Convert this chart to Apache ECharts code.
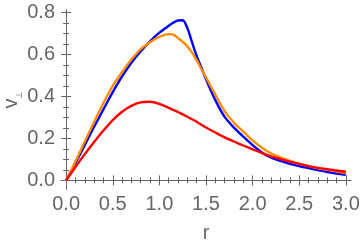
<!DOCTYPE html>
<html>
<head>
<meta charset="utf-8">
<script src="https://cdn.jsdelivr.net/npm/echarts@6/dist/echarts.min.js"></script>
<style>html,body{margin:0;padding:0;background:#fff;overflow:hidden}#c{width:360px;height:245px;}</style>
</head>
<body>
<div id="c"></div>
<script>
const rVals   = [0,0.1,0.2,0.3,0.4,0.5,0.6,0.7,0.8,0.9,1.0,1.1,1.15,1.2,1.25,1.3,1.35,1.4,1.45,1.5,1.6,1.7,1.8,1.9,2.0,2.1,2.2,2.4,2.6,2.8,3.0];
const blueV   = [0,0.082,0.168,0.255,0.338,0.42,0.495,0.56,0.615,0.662,0.703,0.736,0.751,0.761,0.762,0.725,0.658,0.592,0.537,0.482,0.382,0.302,0.251,0.208,0.168,0.133,0.108,0.079,0.058,0.04,0.027];
const orangeV = [0,0.09,0.185,0.278,0.368,0.45,0.515,0.575,0.625,0.658,0.683,0.696,0.694,0.677,0.66,0.638,0.608,0.572,0.53,0.49,0.408,0.33,0.275,0.232,0.19,0.155,0.128,0.093,0.068,0.05,0.035];
const redV    = [0,0.064,0.125,0.183,0.237,0.287,0.327,0.355,0.371,0.374,0.364,0.345,0.335,0.325,0.314,0.303,0.291,0.279,0.265,0.252,0.228,0.205,0.185,0.166,0.148,0.13,0.114,0.089,0.068,0.053,0.041];
const xTicks  = [0,0.5,1,1.5,2,2.5,3];
const yTicks  = [0,0.2,0.4,0.6,0.8];

const xMinor = [], yMinor = [];
for (let i = 0; i <= 30; i++) if (i % 5) xMinor.push(+(i*0.1).toFixed(2));
for (let i = 0; i <= 16; i++) if (i % 4) yMinor.push(+(i*0.05).toFixed(2));

const gray = '#666';
const XMIN = -0.055, XMAX = 3.055, YMIN = -0.041, YMAX = 0.811;
const font = 'Liberation Sans';

function xAx(pos, vals, len, line, labels) {
  return {
    type: 'value', min: XMIN, max: XMAX, position: pos,
    axisLine: {show: line, lineStyle: {color: gray, width: 1}},
    axisTick: {show: true, inside: true, length: len, customValues: vals, lineStyle: {color: gray, width: 1}},
    axisLabel: labels ? {show: true, customValues: xTicks, formatter: v => v.toFixed(1), color: gray, fontSize: 20, fontFamily: font, margin: 5} : {show: false},
    splitLine: {show: false}
  };
}
function yAx(pos, vals, len, line, labels) {
  return {
    type: 'value', min: YMIN, max: YMAX, position: pos,
    axisLine: {show: line, lineStyle: {color: gray, width: 1}},
    axisTick: {show: true, inside: true, length: len, customValues: vals, lineStyle: {color: gray, width: 1}},
    axisLabel: labels ? {show: true, customValues: yTicks, formatter: v => v.toFixed(1), color: gray, fontSize: 20, fontFamily: font, margin: 6} : {show: false},
    splitLine: {show: false}
  };
}

const xa0 = xAx('bottom', xTicks, 5, true, true);
xa0.name = 'r'; xa0.nameLocation = 'middle'; xa0.nameGap = 34; xa0.nameMoveOverlap = false;
xa0.nameTextStyle = {color: gray, fontSize: 20, fontFamily: font, lineHeight: 20};
const ya0 = yAx('left', yTicks, 5, true, true);
ya0.name = '{v|v}{s|⊥}'; ya0.nameLocation = 'middle'; ya0.nameRotate = 90; ya0.nameGap = 37; ya0.nameMoveOverlap = false;
ya0.nameTextStyle = {color: gray, fontFamily: font, rich: {
  v: {fontSize: 20, color: gray, fontFamily: font, lineHeight: 26},
  s: {fontSize: 9, color: gray, fontFamily: font, lineHeight: 6, verticalAlign: 'bottom'}
}};

const lw = 2.4;
const chart = echarts.init(document.getElementById('c'), null, {renderer: 'canvas'});
chart.setOption({
  animation: false,
  grid: {left: 61, right: 9, top: 10, bottom: 56, containLabel: false, outerBoundsMode: 'none'},
  xAxis: [xa0, xAx('bottom', xMinor, 3, false, false), xAx('top', xTicks, 5, true, false), xAx('top', xMinor, 3, false, false)],
  yAxis: [ya0, yAx('left', yMinor, 3, false, false), yAx('right', yTicks, 5, true, false), yAx('right', yMinor, 3, false, false)],
  series: [
    {type: 'line', data: rVals.map((r, i) => [r, blueV[i]]), showSymbol: false, smooth: 0.3, lineStyle: {color: '#0000ff', width: lw}, itemStyle: {color: '#0000ff'}},
    {type: 'line', data: rVals.map((r, i) => [r, orangeV[i]]), showSymbol: false, smooth: 0.3, lineStyle: {color: '#ff8c00', width: lw}, itemStyle: {color: '#ff8c00'}},
    {type: 'line', data: rVals.map((r, i) => [r, redV[i]]), showSymbol: false, smooth: 0.3, lineStyle: {color: '#ff0000', width: lw}, itemStyle: {color: '#ff0000'}}
  ]
});
</script>
</body>
</html>
